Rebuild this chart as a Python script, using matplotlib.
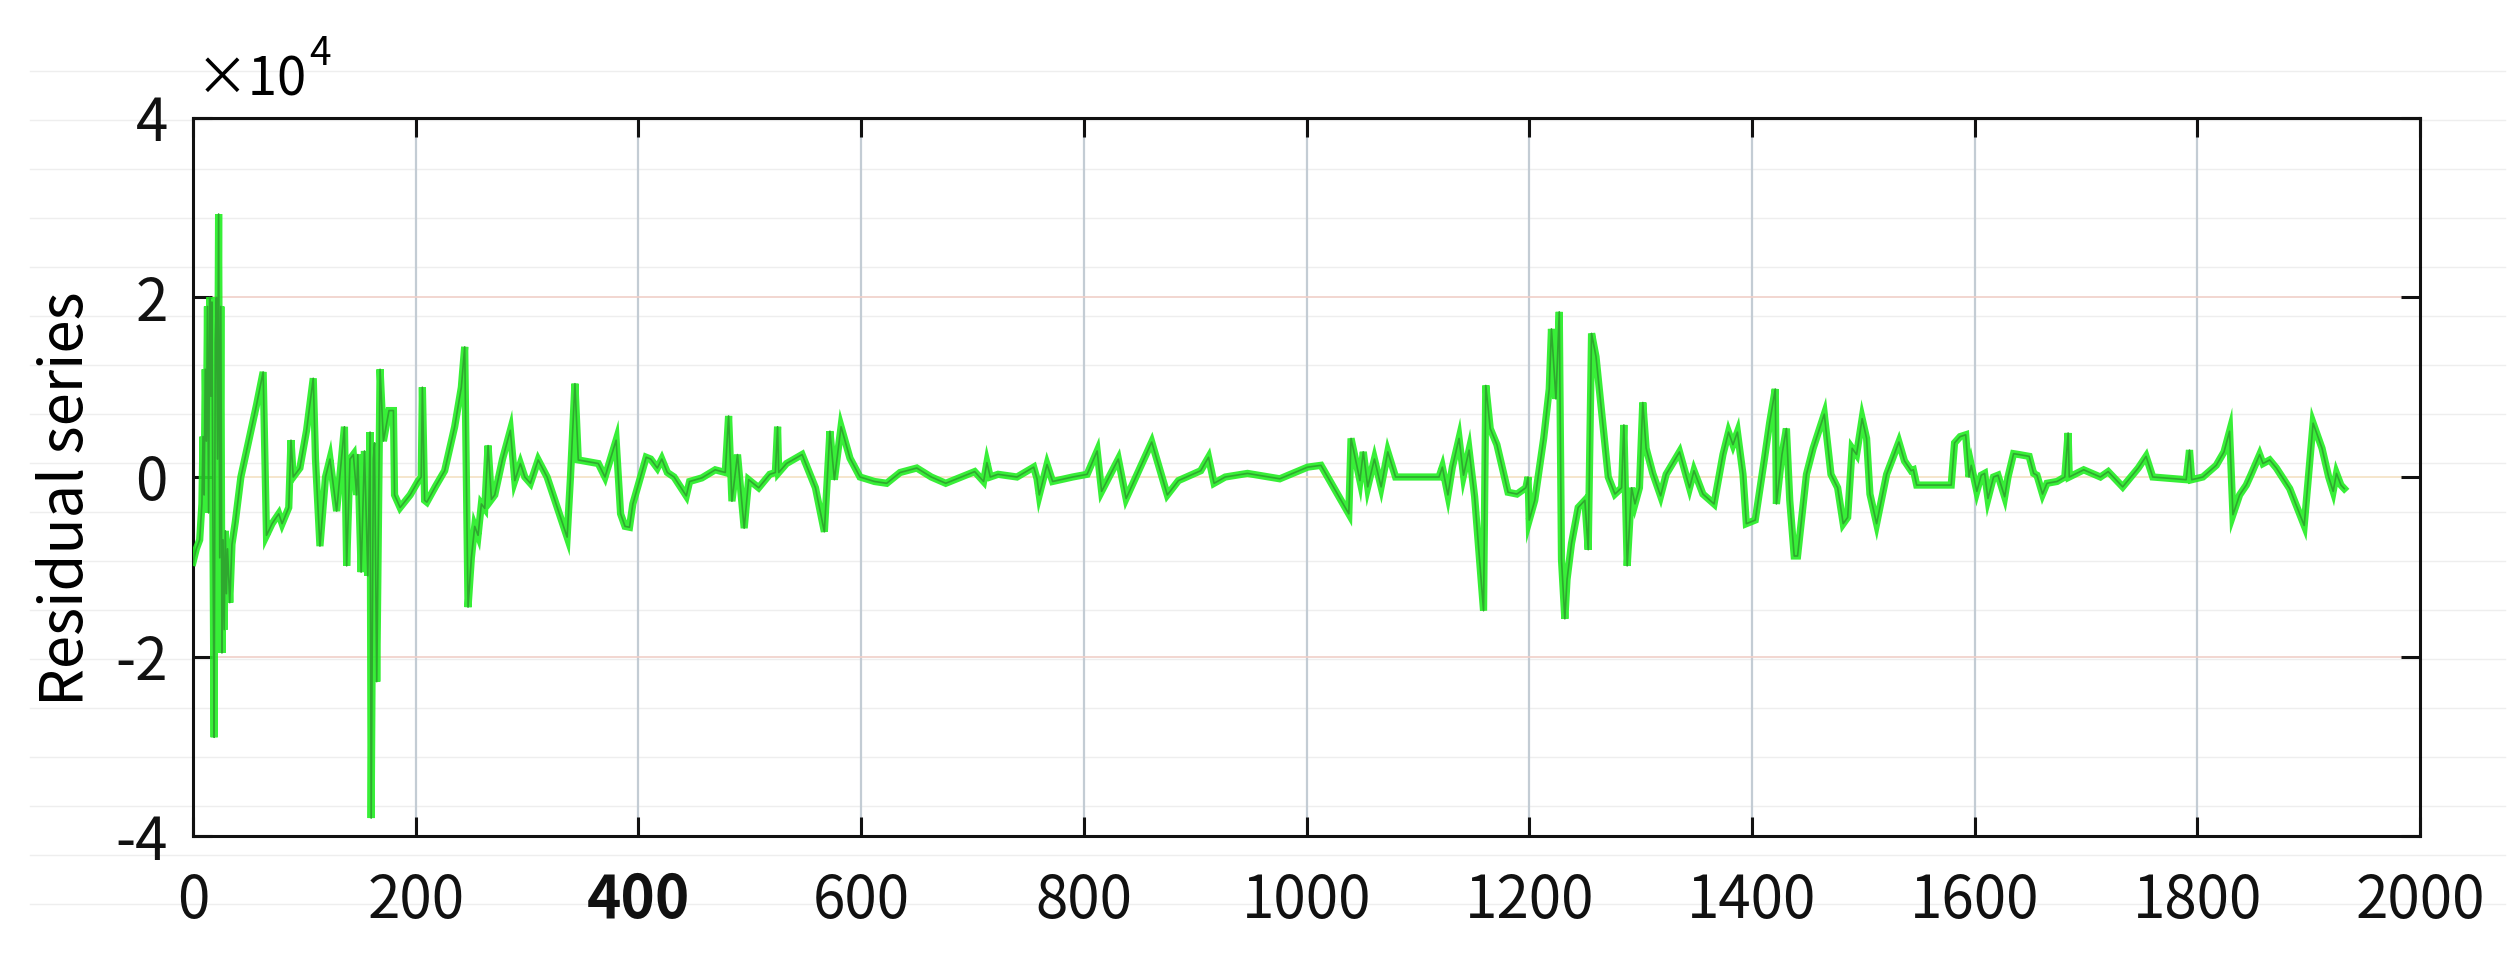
import matplotlib
matplotlib.use("Agg")
import matplotlib.pyplot as plt
from matplotlib.lines import Line2D
from matplotlib.ticker import FuncFormatter
import numpy as np

plt.rcParams['font.family'] = ['Noto Sans CJK SC', 'DejaVu Sans']

# ---- data, values in units of 1e4 ----
x_idx = [0, 3, 6, 8, 9, 10, 11, 12, 13, 14, 15, 16, 17, 18, 19, 20, 21, 22, 23, 24, 25, 26, 27, 28, 29, 30, 31, 33, 35, 38,
         43, 50, 57, 63, 66, 71, 77, 80, 86, 88, 90, 96, 102, 108, 110, 114, 119, 123, 129, 136, 138, 141, 144, 147, 148,
         151, 154, 157, 159, 160, 162, 163, 165, 168, 171, 176, 180, 181, 186, 195, 202,
         205, 206, 208, 210, 218, 226, 235, 241, 244, 247, 250, 253, 256, 259, 262, 265, 268, 271, 278, 285, 289, 294, 298,
         303, 310, 318, 325, 336, 339, 343, 346, 355, 364, 370, 380, 384, 388, 392, 395,
         407, 411, 417, 421, 426, 432, 443, 446, 457, 469, 478, 481, 484, 489, 495, 499, 508, 518, 523, 525, 526, 533, 547,
         559, 567, 572, 576, 582, 590, 599,
         612, 623, 635, 650, 663, 676, 690, 702, 710, 713, 716, 723, 740, 755, 758, 760, 767, 772, 790, 803, 812, 816,
         831, 838, 861, 875, 885, 905, 912, 917, 927, 947, 976, 1001, 1013, 1038, 1040, 1048, 1051, 1055, 1061, 1067, 1073,
         1080, 1119, 1122, 1127, 1131, 1137, 1141, 1146, 1151, 1159, 1161,
         1165, 1171, 1181, 1189, 1197, 1199, 1200, 1205, 1213, 1218, 1220, 1224, 1227, 1229, 1232, 1234, 1238, 1244, 1250,
         1253, 1256, 1260, 1271, 1277, 1283, 1285, 1288, 1292, 1295, 1299, 1302, 1305, 1311, 1318, 1323, 1335, 1344, 1348,
         1356, 1366, 1374, 1379, 1383, 1387, 1392, 1395, 1403, 1411, 1416, 1421, 1422, 1427, 1431, 1434, 1438, 1441, 1449,
         1455, 1465, 1471, 1477, 1482, 1486, 1490, 1494, 1499, 1503, 1506, 1512, 1521, 1532, 1537, 1543,
         1545, 1548, 1579, 1582, 1587, 1592, 1595, 1597, 1602, 1606, 1609, 1612, 1617, 1621, 1627, 1630, 1635, 1640, 1649,
         1653, 1656, 1661, 1665, 1674, 1681, 1684, 1685, 1698, 1713, 1720, 1733, 1747, 1754, 1760, 1790, 1793, 1795, 1805,
         1817, 1824, 1829, 1832, 1838, 1844, 1848, 1856, 1859, 1865, 1871, 1883, 1896, 1904, 1912, 1918, 1922, 1925, 1929,
         1932]
residual_e4 = [-0.95, -0.8, -0.7, -0.3, 0.45, -0.2, 1.2, 0.4, 1.9, -0.4, 2.0, 0.9, 1.95, -0.8, -2.9, 1.5, 2.0, 0.2, 2.93, -0.9, 1.9, -1.96, -0.7, -1.7, -0.6, -1.3, -0.8, -1.4, -0.75, -0.5,
               0.0, 0.4, 0.8, 1.17, -0.65, -0.52, -0.41, -0.52, -0.34, 0.41, 0.0, 0.1, 0.52, 1.1, 0.2, -0.77, 0.0, 0.2, -0.38, 0.56, -0.99, 0.2, 0.25, -0.2, 0.25,
               -1.06, 0.29, -1.1, 0.5, -3.8, 0.2, 0.38, -2.28, 1.2, 0.4, 0.74, 0.74, -0.2, -0.34, -0.2, -0.05,
               0.0, 1.0, -0.26, -0.28, -0.1, 0.07, 0.56, 1.0, 1.45, -1.45, -0.9, -0.55, -0.65, -0.3, -0.35, 0.35, -0.25, -0.2, 0.2, 0.52, -0.04, 0.15, 0.0,
               -0.07, 0.19, 0.0, -0.26, -0.67, 0.0, 1.04, 0.19, 0.17, 0.15, 0.0, 0.41, -0.41, -0.55, -0.56, -0.3,
               0.22, 0.2, 0.1, 0.2, 0.05, 0.0, -0.21, -0.05, -0.01, 0.08, 0.05, 0.68, -0.27, 0.25, -0.57, -0.03, -0.12, 0.03, 0.05, 0.56, 0.05, 0.15, 0.25,
               -0.12, -0.61, 0.51, -0.03, 0.56, 0.21, 0.0,
               -0.05, -0.07, 0.05, 0.1, 0.0, -0.07, 0.0, 0.06, -0.05, 0.16, 0.0, 0.03, 0.0, 0.11, -0.02, -0.2, 0.14, -0.05, 0.0, 0.03, 0.29, -0.16,
               0.2, -0.24, 0.39, -0.2, -0.04, 0.07, 0.22, -0.07, 0.0, 0.04, -0.02, 0.11, 0.13, -0.41, 0.43, -0.04, 0.28, -0.11, 0.2, -0.11, 0.28,
               0.0, 0.0, 0.11, -0.2, 0.11, 0.43, 0.02, 0.3, -0.22, -1.49, 1.02,
               0.54, 0.36, -0.17, -0.19, -0.12, 0.0, -0.48, -0.26, 0.43, 0.98, 1.65, 0.87, 1.84, -0.92, -1.58, -1.14, -0.74, -0.34, -0.26,
               -0.81, 1.6, 1.34, 0.0, -0.19, -0.12, 0.58, -0.99, -0.12, -0.3, -0.12, 0.83, 0.32, 0.04, -0.21, 0.03, 0.28, -0.12, 0.07,
               -0.19, -0.3, 0.25, 0.5, 0.36, 0.5, 0.03, -0.52, -0.48, 0.18, 0.61, 0.98, -0.3, 0.25, 0.54, -0.26, -0.88, -0.88, 0.03,
               0.32, 0.7, 0.03, -0.12, -0.52, -0.45, 0.32, 0.25, 0.65, 0.43, -0.19, -0.52, 0.03, 0.39, 0.18, 0.07,
               0.08, -0.09, -0.09, 0.38, 0.45, 0.47, 0.0, 0.13, -0.16, 0.02, 0.04, -0.24, 0.0, 0.02, -0.22, 0.0, 0.26, 0.25, 0.23,
               0.04, 0.02, -0.19, -0.07, -0.05, 0.0, 0.49, 0.0, 0.08, 0.0, 0.06, -0.11, 0.1, 0.23, 0.0, -0.03, 0.3, -0.03, 0.0,
               0.13, 0.28, 0.51, -0.42, -0.2, -0.09, 0.02, 0.25, 0.15, 0.19, 0.1, -0.13, -0.54, 0.6, 0.32, 0.0, -0.16, 0.04, -0.09,
               -0.13]

x_ticks = [0, 200, 400, 600, 800, 1000, 1200, 1400, 1600, 1800, 2000]
y_ticks = [-4e4, -2e4, 0, 2e4, 4e4]
y_label = "Residual series"
scale_exp = 4

x = np.array(x_idx, dtype=float)
y = np.array(residual_e4, dtype=float) * 10 ** scale_exp

W, H = 2517, 977
fig = plt.figure(figsize=(W / 100, H / 100), dpi=100)
fig.patch.set_facecolor('white')

# faint ruled background lines across the whole picture
rule_step = 49
for py in range(316 - 5 * rule_step, 940, rule_step):
    fig.add_artist(Line2D([30 / W, 2505 / W], [1 - py / H, 1 - py / H], color='#eeeeee', lw=1.0, zorder=0))

ax = fig.add_axes([193 / W, (H - 836) / H, 2227 / W, 718 / H])
ax.set_facecolor('none')

# grids
for xv in x_ticks[1:-1]:
    ax.axvline(xv, color='#c3ccd4', lw=1.6, zorder=1)
for yv in y_ticks[1:-1]:
    ax.axhline(yv, color='#f0cfc8' if yv != 0 else '#f3e2c4', lw=1.2, zorder=1)

ax.plot(x, y, color='#22ee22', lw=5.2, zorder=3, solid_joinstyle='miter', alpha=0.9)
ax.plot(x, y, color='#2fa82f', lw=1.2, zorder=4)

ax.set_xlim(0, 2000)
ax.set_ylim(-4e4, 4e4)
ax.set_xticks(x_ticks)
ax.set_yticks(y_ticks)
ax.yaxis.set_major_formatter(FuncFormatter(lambda v, p: f"{v / 10 ** scale_exp:g}"))

for s in ax.spines.values():
    s.set_linewidth(2.2)
    s.set_color('#111111')

ax.tick_params(axis='both', direction='in', length=14, width=2.2, colors='#111111',
               top=True, right=True, labelsize=42)
ax.tick_params(axis='x', pad=25)
ax.tick_params(axis='y', pad=18)
for lbl in ax.get_xticklabels():
    if lbl.get_text() == '400':
        lbl.set_fontweight('bold')

ax.set_ylabel(y_label, fontsize=43)
ax.yaxis.set_label_coords(-0.043, 0.47)

mult = ax.text(0.001, 1.031, '×10', transform=ax.transAxes, fontsize=38, ha='left', va='baseline')
ax.annotate(f'{scale_exp}', xy=(1.0, 0.62), xycoords=mult, xytext=(2, 0), textcoords='offset points',
            fontsize=28, ha='left', va='bottom')

fig.savefig('out.png', dpi=100, facecolor='white')
